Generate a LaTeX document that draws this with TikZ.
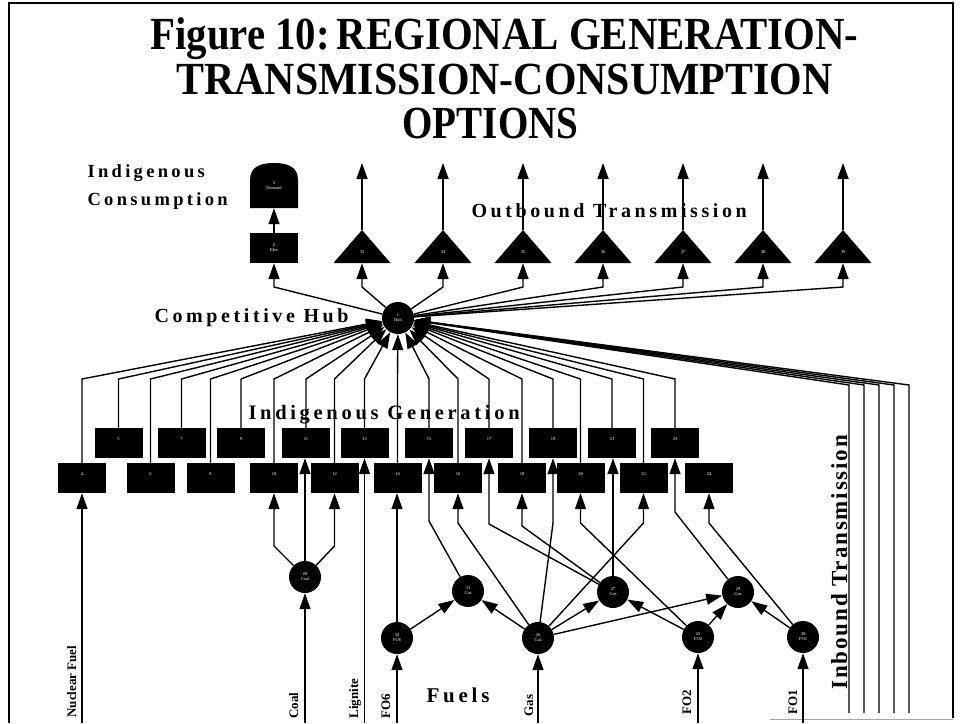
\documentclass[tikz,border=0pt]{standalone}
\usepackage{fontspec}
\usepackage{graphicx}
\setmainfont{Liberation Serif}
\newfontfamily\lblfont[LetterSpace=18]{Liberation Serif}
\newfontfamily\inbfont[LetterSpace=8]{Liberation Serif}
\usetikzlibrary{arrows.meta}
\newcommand{\nodetxt}{\fontsize{4.5}{5}\selectfont}
\begin{document}
\begin{tikzpicture}[x=1pt,y=-1pt,
  conn/.style={line width=1.4pt},
  arr/.style={conn,-{Triangle[length=16pt,width=11pt]}},
  gen/.style={fill=black,minimum width=48pt,minimum height=30pt,inner sep=0pt,
              text=white,font=\nodetxt,align=center},
  fuel/.style={circle,fill=black,minimum size=32pt,inner sep=0pt,
               text=white,font=\nodetxt,align=center},
  slot/.style={minimum width=57pt,minimum height=33pt,inner sep=0pt},
  tag/.style={text=white,font=\nodetxt,inner sep=0pt,align=center},
  head/.style={anchor=base,font=\bfseries\fontsize{46}{46}\selectfont},
  group/.style={anchor=base west,font=\lblfont\bfseries\fontsize{20}{24}\selectfont},
  fuelname/.style={anchor=base west,rotate=90,font=\bfseries\fontsize{13}{13}\selectfont}]

\useasboundingbox (0,0) rectangle (963,723);

% frame
\draw[line width=1.2pt] (9,723) -- (9,3) -- (953,3) -- (953,718);
\draw[line width=1pt,black!35] (770,719) -- (953,719);

% title
\node[head] (title1) at (504.5,49) {\scalebox{0.887}[1]{Figure 10:\,REGIONAL GENERATION-}};
\node[head] (title2) at (504.5,94) {\scalebox{0.91}[1]{TRANSMISSION-CONSUMPTION}};
\node[head] (title3) at (490.5,138) {\scalebox{0.85}[1]{OPTIONS}};

% reference rows for the connector bends
\coordinate (hubrow) at (0,379);
\coordinate (outrow) at (0,287);
\coordinate (outtop) at (0,163);
\coordinate (bot) at (0,723);
\coordinate (fanrow) at (0,546);
\coordinate (inrow) at (0,385);

% competitive hub
\node[fuel] (hub) at (398,318) {1\\Hub};

% consumption side
\fill (250,208) -- (250,180) .. controls (250,167) and (260,163) .. (274,163)
      .. controls (288,163) and (298,167) .. (298,180) -- (298,208) -- cycle;
\node[minimum width=48pt,minimum height=45pt,inner sep=0pt,text=white,font=\nodetxt,align=center]
  (demand) at (274,185.5) {3\\Demand};
\node[gen] (elec) at (274,248) {2\\Elec};
\draw[arr] (elec.north) -- (demand.south);
\draw[arr] (hub) -- (elec.south |- outrow) -- (elec.south);

% outbound transmission
\foreach \n/\x in {33/362,34/443,35/523,36/603,37/683,38/763,39/843}{
  \fill (\x-28.5,263) -- (\x,230) -- (\x+28.5,263) -- cycle;
  \node[slot] (t\n) at (\x,246.5) {};
  \node[tag] (tl\n) at (\x,252) {\n};
  \draw[arr] (t\n.north) -- (t\n.north |- outtop);
  \draw[arr] (hub) -- (t\n.south |- outrow) -- (t\n.south);
}

% generation options
\foreach \n/\x in {5/118.5,7/181.5,9/241,11/306,13/364.5,15/429,17/489,19/553,21/612,23/675}
  \node[gen] (g\n) at (\x,443) {\n\\[1pt]\strut};
\foreach \n/\x in {4/82,6/150.5,8/210.5,10/274,12/334.5,14/397.5,16/458,18/522,20/580.5,22/643.5,24/709}
  \node[gen] (g\n) at (\x,478) {\n\\[1pt]\strut};
\foreach \n in {4,...,23}
  \draw[arr] (g\n.north) -- (g\n.north |- hubrow) -- (hub);

% inbound transmission
\foreach \i/\x in {1/849,2/864,3/879,4/894,5/909}{
  \coordinate (in\i) at (\x,713);
  \draw[arr] (in\i) -- (in\i |- inrow) -- (hub);
}

% fuel nodes
\node[fuel] (f28) at (305,577) {28\\Coal};
\node[fuel] (f31) at (468,591) {31\\Gas};
\node[fuel] (f32) at (397,638) {32\\FO6};
\node[fuel] (f26) at (538,638) {26\\Gas};
\node[fuel] (f27) at (613,592) {27\\Gas};
\node[fuel] (f29) at (738,592) {29\\Gas};
\node[fuel] (f25) at (698,637) {25\\FO2};
\node[fuel] (f30) at (803,637) {30\\FO1};

% fuel supplies
\draw[arr] (g4.south |- bot) -- (g4.south);
\draw[arr] (f28 |- bot) -- (f28);
\draw[arr] (g13.south |- bot) -- (g13.south);
\draw[arr] (f32 |- bot) -- (f32);
\draw[arr] (f26 |- bot) -- (f26);
\draw[arr] (f25 |- bot) -- (f25);
\draw[arr] (f30 |- bot) -- (f30);

% fuel to generation
\draw[arr] (f28) -- (g10.south |- fanrow) -- (g10.south);
\draw[arr] (f28) -- (f28 |- g11.south);
\draw[arr] (f28) -- (g12.south |- fanrow) -- (g12.south);
\draw[arr] (f32) -- (f32 |- g14.south);
\draw[arr] (f31) -- (429,521) -- (g15.south);
\draw[arr] (f26) -- (458,523) -- (g16.south);
\draw[arr] (f26) -- (553,523) -- (g19.south);
\draw[arr] (f26) -- (643.5,523) -- (g22.south);
\draw[arr] (f27) -- (489,524) -- (g17.south);
\draw[arr] (f27) -- (522,526) -- (g18.south);
\draw[arr] (f27) -- (f27 |- g21.south);
\draw[arr] (f25) -- (580.5,523) -- (g20.south);
\draw[arr] (f29) -- (675,512) -- (g23.south);
\draw[arr] (f30) -- (709,523) -- (g24.south);

% fuel to fuel
\draw[arr] (f32) -- (f31);
\draw[arr] (f26) -- (f31);
\draw[arr] (f26) -- (f27);
\draw[arr] (f26) -- (f29);
\draw[arr] (f25) -- (f27);
\draw[arr] (f25) -- (f29);
\draw[arr] (f30) -- (f29);

% fuel names
\node[fuelname] (nfuel) at (76,721) {Nuclear Fuel};
\node[fuelname] (ncoal) at (298,722) {Coal};
\node[fuelname] (nlig) at (358,722) {Lignite};
\node[fuelname] (nfo6) at (390,722) {FO6};
\node[fuelname] (ngas) at (533,720) {Gas};
\node[fuelname] (nfo2) at (691,718) {FO2};
\node[fuelname] (nfo1) at (797,718) {FO1};

% group labels
\node[group,font=\lblfont\bfseries\fontsize{18.5}{22}\selectfont] (lcons1) at (84,177) {Indigenous};
\node[group,font=\lblfont\bfseries\fontsize{18.5}{22}\selectfont] (lcons2) at (84,205) {Consumption};
\node[group] (lhub) at (151,322) {Competitive Hub};
\node[group] (lout) at (468,217) {Outbound Transmission};
\node[group,font=\lblfont\bfseries\fontsize{20.5}{24}\selectfont] (lgen) at (245,419) {Indigenous Generation};
\node[group,font=\lblfont\bfseries\fontsize{21}{24}\selectfont] (lfuel) at (423,702) {Fuels};
\node[anchor=base west,rotate=90,font=\inbfont\bfseries\fontsize{23}{23}\selectfont] (lin) at (847,693) {Inbound Transmission};

\end{tikzpicture}
\end{document}
